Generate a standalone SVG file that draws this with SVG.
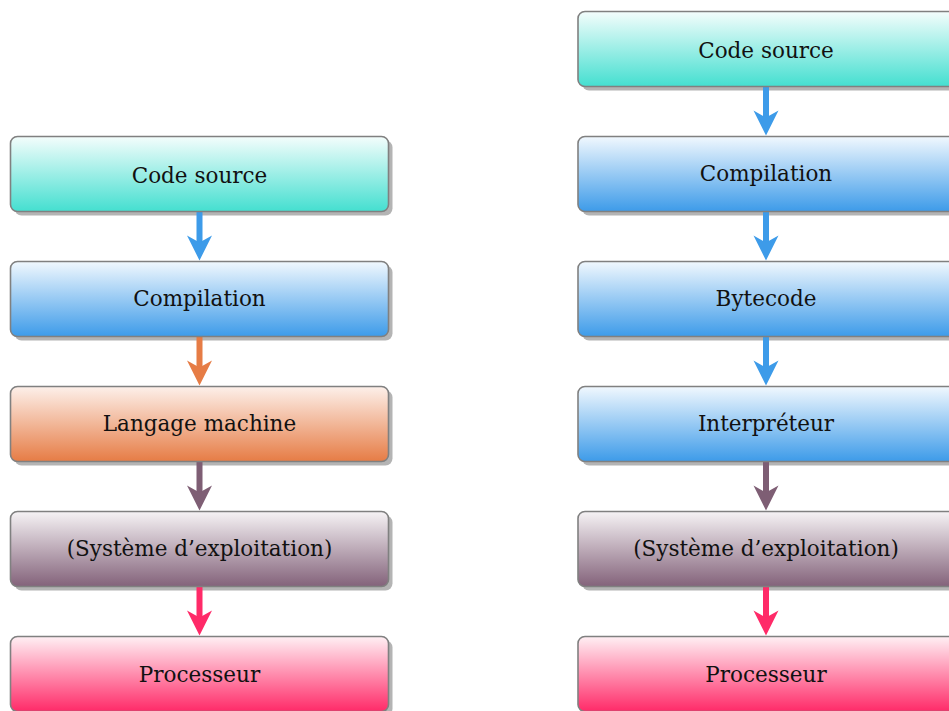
<svg xmlns="http://www.w3.org/2000/svg" width="949" height="711" viewBox="0 0 949 711">
<style>
.box{stroke:#808080;stroke-width:1.6}
.sh{fill:#b4b4b4}
.t{font-family:"DejaVu Serif","Liberation Serif",serif;font-size:21.5px;fill:#111;text-anchor:middle}
</style>
<defs>
<linearGradient id="gTurq" x1="0" y1="0" x2="0" y2="1"><stop offset="0" stop-color="#f4fdfc"/><stop offset="1" stop-color="#44dfd0"/></linearGradient>
<linearGradient id="gBlue" x1="0" y1="0" x2="0" y2="1"><stop offset="0" stop-color="#f1f8fe"/><stop offset="1" stop-color="#3d9be9"/></linearGradient>
<linearGradient id="gOrange" x1="0" y1="0" x2="0" y2="1"><stop offset="0" stop-color="#fdf0ea"/><stop offset="1" stop-color="#e67c45"/></linearGradient>
<linearGradient id="gMauve" x1="0" y1="0" x2="0" y2="1"><stop offset="0" stop-color="#f6f3f5"/><stop offset="1" stop-color="#83627a"/></linearGradient>
<linearGradient id="gPink" x1="0" y1="0" x2="0" y2="1"><stop offset="0" stop-color="#fff0f4"/><stop offset="1" stop-color="#ff2a68"/></linearGradient>
<path id="head" d="M-12.5,0 L0,7 L12.5,0 L0,25 Z"/>
</defs>

<!-- shadows -->
<g id="shadows">
<rect class="sh" x="14.5" y="140.5" width="378" height="75" rx="7"/>
<rect class="sh" x="14.5" y="265.5" width="378" height="75" rx="7"/>
<rect class="sh" x="14.5" y="390.5" width="378" height="75" rx="7"/>
<rect class="sh" x="14.5" y="515.5" width="378" height="75" rx="7"/>
<rect class="sh" x="14.5" y="640.5" width="378" height="75" rx="7"/>
<rect class="sh" x="582" y="15.5" width="378" height="75" rx="7"/>
<rect class="sh" x="582" y="140.5" width="378" height="75" rx="7"/>
<rect class="sh" x="582" y="265.5" width="378" height="75" rx="7"/>
<rect class="sh" x="582" y="390.5" width="378" height="75" rx="7"/>
<rect class="sh" x="582" y="515.5" width="378" height="75" rx="7"/>
<rect class="sh" x="582" y="640.5" width="378" height="75" rx="7"/>
</g>

<!-- connectors -->
<g id="connectors">
<g fill="#3d9be9"><rect x="196.5" y="211" width="6" height="33"/><use href="#head" x="199.5" y="235.5"/></g>
<g fill="#e67c45"><rect x="196.5" y="336" width="6" height="33"/><use href="#head" x="199.5" y="360.5"/></g>
<g fill="#7e5e74"><rect x="196.5" y="461" width="6" height="33"/><use href="#head" x="199.5" y="485.5"/></g>
<g fill="#ff2a68"><rect x="196.5" y="586" width="6" height="33"/><use href="#head" x="199.5" y="610.5"/></g>

<g fill="#3d9be9"><rect x="763" y="86" width="6" height="33"/><use href="#head" x="766" y="110.5"/></g>
<g fill="#3d9be9"><rect x="763" y="211" width="6" height="33"/><use href="#head" x="766" y="235.5"/></g>
<g fill="#3d9be9"><rect x="763" y="336" width="6" height="33"/><use href="#head" x="766" y="360.5"/></g>
<g fill="#7e5e74"><rect x="763" y="461" width="6" height="33"/><use href="#head" x="766" y="485.5"/></g>
<g fill="#ff2a68"><rect x="763" y="586" width="6" height="33"/><use href="#head" x="766" y="610.5"/></g>
</g>

<!-- left column -->
<g id="L1"><rect class="box" x="10.5" y="136.5" width="378" height="75" rx="7" fill="url(#gTurq)"/><text class="t" x="199.5" y="182.5">Code source</text></g>
<g id="L2"><rect class="box" x="10.5" y="261.5" width="378" height="75" rx="7" fill="url(#gBlue)"/><text class="t" x="199.5" y="305.5">Compilation</text></g>
<g id="L3"><rect class="box" x="10.5" y="386.5" width="378" height="75" rx="7" fill="url(#gOrange)"/><text class="t" x="199.5" y="430.5">Langage machine</text></g>
<g id="L4"><rect class="box" x="10.5" y="511.5" width="378" height="75" rx="7" fill="url(#gMauve)"/><text class="t" x="199.5" y="555.5">(Système d’exploitation)</text></g>
<g id="L5"><rect class="box" x="10.5" y="636.5" width="378" height="75" rx="7" fill="url(#gPink)"/><text class="t" x="199.5" y="681.5">Processeur</text></g>

<!-- right column -->
<g id="R1"><rect class="box" x="578" y="11.5" width="378" height="75" rx="7" fill="url(#gTurq)"/><text class="t" x="766" y="57.5">Code source</text></g>
<g id="R2"><rect class="box" x="578" y="136.5" width="378" height="75" rx="7" fill="url(#gBlue)"/><text class="t" x="766" y="180.5">Compilation</text></g>
<g id="R3"><rect class="box" x="578" y="261.5" width="378" height="75" rx="7" fill="url(#gBlue)"/><text class="t" x="766" y="305.5">Bytecode</text></g>
<g id="R4"><rect class="box" x="578" y="386.5" width="378" height="75" rx="7" fill="url(#gBlue)"/><text class="t" x="766" y="430.5">Interpréteur</text></g>
<g id="R5"><rect class="box" x="578" y="511.5" width="378" height="75" rx="7" fill="url(#gMauve)"/><text class="t" x="766" y="555.5">(Système d’exploitation)</text></g>
<g id="R6"><rect class="box" x="578" y="636.5" width="378" height="75" rx="7" fill="url(#gPink)"/><text class="t" x="766" y="681.5">Processeur</text></g>
</svg>
